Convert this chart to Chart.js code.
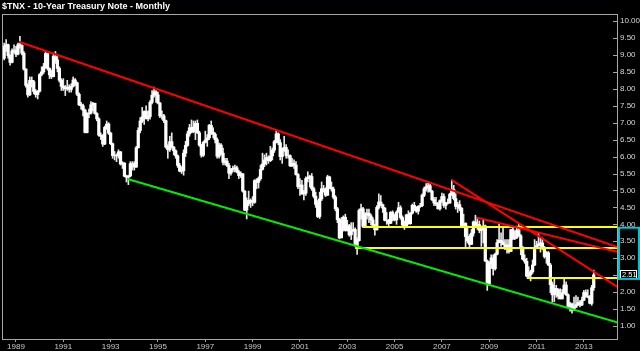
<!DOCTYPE html>
<html>
<head>
<meta charset="utf-8">
<script src="https://cdn.jsdelivr.net/npm/chart.js@4.4.0/dist/chart.umd.min.js"></script>
<style>
  html, body { margin: 0; padding: 0; background: #000; }
  #wrap { width: 640px; height: 351px; }
</style>
</head>
<body>
<div id="wrap"><canvas id="tnx"></canvas></div>
<script>
// Monthly candles, Jul 1988 .. Jun 2013. x = months since Jan 1989
var firstMonth = -6;

var opens = [
  8.90, 9.26, 9.30, 8.98, 8.78, 9.12,                                   // 1988 Jul-Dec
  9.14, 9.02, 9.30, 9.28, 9.05, 8.58, 8.10, 7.82, 8.25, 8.21, 7.92, 7.83, // 1989
  7.93, 8.42, 8.50, 8.65, 9.04, 8.60, 8.41, 8.36, 8.96, 8.85, 8.60, 8.25, // 1990
  8.07, 8.02, 8.00, 8.05, 7.98, 8.07, 8.26, 8.18, 7.84, 7.53, 7.50, 7.37, // 1991
  6.71, 7.27, 7.28, 7.53, 7.57, 7.27, 7.11, 6.63, 6.60, 6.37, 6.86, 6.96, // 1992
  6.69, 6.38, 6.03, 6.04, 6.02, 6.14, 5.78, 5.81, 5.42, 5.39, 5.43, 5.79, // 1993
  5.79, 5.69, 6.26, 6.77, 7.05, 7.17, 7.33, 7.12, 7.18, 7.60, 7.81, 7.91, // 1994
  7.82, 7.58, 7.20, 7.20, 7.06, 6.28, 6.20, 6.44, 6.28, 6.17, 6.02, 5.74, // 1995
  5.57, 5.58, 6.10, 6.33, 6.67, 6.85, 6.73, 6.87, 6.98, 6.70, 6.34, 6.04, // 1996
  6.42, 6.49, 6.55, 6.92, 6.72, 6.66, 6.50, 6.01, 6.34, 6.10, 5.83, 5.87, // 1997
  5.74, 5.51, 5.62, 5.65, 5.67, 5.55, 5.44, 5.49, 4.98, 4.42, 4.61, 4.71, // 1998
  4.65, 4.65, 5.29, 5.24, 5.35, 5.62, 5.78, 5.90, 5.97, 5.88, 6.02, 6.19, // 1999
  6.44, 6.67, 6.41, 6.00, 6.21, 6.27, 6.03, 6.03, 5.73, 5.80, 5.75, 5.47, // 2000
  5.11, 5.16, 4.90, 4.92, 5.35, 5.38, 5.41, 5.05, 4.83, 4.59, 4.23, 4.75, // 2001
  5.05, 5.04, 4.86, 5.40, 5.09, 5.04, 4.80, 4.46, 4.14, 3.60, 3.89, 4.21, // 2002
  3.82, 3.96, 3.69, 3.80, 3.85, 3.37, 3.52, 4.41, 4.46, 3.94, 4.29, 4.33, // 2003
  4.25, 4.13, 3.97, 3.84, 4.50, 4.66, 4.58, 4.48, 4.12, 4.12, 4.03, 4.35, // 2004
  4.22, 4.13, 4.36, 4.49, 4.20, 3.98, 3.94, 4.28, 4.02, 4.33, 4.56, 4.49, // 2005
  4.39, 4.53, 4.55, 4.86, 5.05, 5.11, 5.14, 4.98, 4.73, 4.63, 4.60, 4.46, // 2006
  4.70, 4.82, 4.56, 4.64, 4.63, 4.89, 5.03, 4.76, 4.53, 4.58, 4.47, 3.94, // 2007
  4.03, 3.64, 3.51, 3.41, 3.74, 4.07, 3.97, 3.99, 3.82, 3.85, 3.95, 2.92, // 2008
  2.24, 2.84, 3.01, 2.69, 3.12, 3.46, 3.53, 3.48, 3.40, 3.31, 3.39, 3.20, // 2009
  3.84, 3.59, 3.61, 3.83, 3.66, 3.29, 2.97, 2.91, 2.47, 2.51, 2.60, 2.80, // 2010
  3.29, 3.37, 3.42, 3.45, 3.29, 3.05, 3.16, 2.80, 2.22, 1.92, 2.11, 2.07, // 2011
  1.88, 1.80, 1.98, 2.21, 1.92, 1.58, 1.65, 1.47, 1.55, 1.63, 1.69, 1.62, // 2012
  1.76, 1.99, 1.88, 1.85, 1.67, 2.13                                      // 2013 Jan-Jun
];
var highs = [
  9.35, 9.45, 9.32, 9.00, 9.18, 9.30,
  9.25, 9.35, 9.55, 9.30, 9.10, 8.60, 8.15, 8.35, 8.35, 8.25, 7.98, 7.95,
  8.45, 8.65, 8.75, 9.10, 9.05, 8.62, 8.55, 9.05, 9.10, 8.95, 8.65, 8.30,
  8.30, 8.10, 8.25, 8.12, 8.15, 8.35, 8.30, 8.20, 7.88, 7.60, 7.55, 7.40,
  7.30, 7.40, 7.62, 7.60, 7.58, 7.30, 7.15, 6.70, 6.65, 6.90, 7.05, 7.00,
  6.72, 6.40, 6.15, 6.08, 6.20, 6.15, 5.85, 5.82, 5.45, 5.45, 5.85, 5.85,
  5.85, 6.30, 6.85, 7.15, 7.45, 7.35, 7.50, 7.35, 7.65, 7.95, 8.05, 7.95,
  7.90, 7.60, 7.35, 7.25, 7.08, 6.35, 6.60, 6.70, 6.30, 6.20, 6.05, 5.80,
  5.70, 6.20, 6.45, 6.75, 6.95, 7.08, 7.05, 7.05, 7.08, 6.75, 6.36, 6.45,
  6.75, 6.65, 6.95, 7.05, 6.85, 6.70, 6.55, 6.40, 6.38, 6.25, 5.95, 5.95,
  5.80, 5.65, 5.72, 5.75, 5.72, 5.60, 5.55, 5.50, 5.00, 4.78, 4.98, 4.75,
  4.82, 5.32, 5.35, 5.40, 5.75, 6.10, 6.05, 6.10, 6.02, 6.30, 6.25, 6.48,
  6.79, 6.70, 6.50, 6.25, 6.60, 6.35, 6.20, 6.05, 5.95, 5.90, 5.85, 5.50,
  5.35, 5.30, 5.00, 5.40, 5.55, 5.45, 5.50, 5.10, 4.95, 4.70, 4.95, 5.25,
  5.15, 5.08, 5.45, 5.42, 5.25, 5.10, 4.85, 4.50, 4.18, 4.20, 4.25, 4.30,
  4.12, 4.00, 4.05, 4.05, 3.90, 3.60, 4.45, 4.60, 4.50, 4.35, 4.45, 4.45,
  4.30, 4.20, 4.00, 4.55, 4.90, 4.85, 4.60, 4.50, 4.35, 4.15, 4.38, 4.40,
  4.30, 4.40, 4.65, 4.55, 4.25, 4.10, 4.30, 4.40, 4.35, 4.60, 4.65, 4.52,
  4.55, 4.62, 4.90, 5.10, 5.20, 5.25, 5.20, 5.00, 4.80, 4.80, 4.65, 4.72,
  4.92, 4.90, 4.65, 4.75, 4.92, 5.31, 5.15, 4.90, 4.65, 4.70, 4.50, 4.30,
  4.05, 3.95, 3.70, 3.85, 4.10, 4.27, 4.20, 4.10, 3.95, 4.15, 3.98, 2.95,
  2.90, 3.10, 3.10, 3.15, 3.55, 4.00, 3.75, 3.90, 3.55, 3.55, 3.55, 3.85,
  3.95, 3.80, 3.95, 4.00, 3.70, 3.35, 3.10, 3.00, 2.75, 2.65, 2.95, 3.55,
  3.50, 3.75, 3.60, 3.60, 3.35, 3.20, 3.20, 2.85, 2.30, 2.40, 2.20, 2.10,
  2.10, 2.08, 2.40, 2.30, 1.95, 1.70, 1.68, 1.85, 1.90, 1.85, 1.75, 1.85,
  2.05, 2.07, 2.07, 1.90, 2.20, 2.65
];
var lows = [
  8.85, 9.10, 8.90, 8.70, 8.76, 9.05,
  8.95, 9.00, 9.20, 9.00, 8.55, 8.05, 7.75, 7.80, 8.05, 7.85, 7.75, 7.70,
  7.90, 8.38, 8.45, 8.60, 8.55, 8.30, 8.30, 8.35, 8.75, 8.50, 8.20, 7.95,
  7.95, 7.80, 7.95, 7.90, 7.90, 8.05, 8.10, 7.80, 7.50, 7.40, 7.20, 6.70,
  6.70, 7.15, 7.25, 7.35, 7.25, 7.05, 6.60, 6.50, 6.30, 6.35, 6.80, 6.65,
  6.35, 5.95, 5.90, 5.85, 5.95, 5.75, 5.65, 5.40, 5.25, 5.17, 5.40, 5.60,
  5.60, 5.68, 6.25, 6.70, 7.00, 6.95, 7.10, 7.05, 7.10, 7.55, 7.75, 7.60,
  7.55, 7.15, 7.10, 7.00, 6.25, 5.95, 6.15, 6.25, 6.05, 5.95, 5.68, 5.55,
  5.50, 5.45, 6.00, 6.30, 6.60, 6.70, 6.70, 6.50, 6.68, 6.30, 5.98, 6.00,
  6.40, 6.30, 6.50, 6.65, 6.55, 6.40, 5.95, 5.95, 6.05, 5.75, 5.75, 5.70,
  5.35, 5.45, 5.55, 5.55, 5.52, 5.35, 5.38, 4.95, 4.40, 4.16, 4.55, 4.50,
  4.55, 4.62, 5.05, 5.07, 5.30, 5.60, 5.70, 5.75, 5.80, 5.85, 5.90, 6.12,
  6.40, 6.35, 5.90, 5.80, 6.15, 5.95, 5.95, 5.70, 5.70, 5.65, 5.45, 5.05,
  4.85, 4.88, 4.72, 4.85, 5.25, 5.10, 5.00, 4.78, 4.50, 4.20, 4.17, 4.70,
  4.95, 4.82, 4.85, 5.05, 4.98, 4.75, 4.40, 4.05, 3.57, 3.60, 3.80, 3.80,
  3.80, 3.65, 3.55, 3.80, 3.35, 3.11, 3.50, 4.15, 3.90, 3.92, 4.15, 4.05,
  3.98, 3.95, 3.68, 3.83, 4.45, 4.55, 4.35, 4.10, 4.00, 3.95, 4.02, 4.10,
  4.10, 4.00, 4.35, 4.15, 3.95, 3.85, 3.93, 4.00, 4.00, 4.30, 4.40, 4.35,
  4.30, 4.50, 4.52, 4.82, 4.98, 4.95, 4.95, 4.70, 4.55, 4.55, 4.45, 4.42,
  4.65, 4.50, 4.45, 4.60, 4.62, 4.85, 4.72, 4.45, 4.35, 4.40, 3.90, 3.90,
  3.30, 3.45, 3.30, 3.40, 3.65, 3.90, 3.85, 3.75, 3.35, 3.45, 2.90, 2.05,
  2.20, 2.70, 2.50, 2.65, 3.10, 3.45, 3.35, 3.40, 3.25, 3.15, 3.15, 3.20,
  3.55, 3.55, 3.58, 3.65, 3.10, 2.95, 2.85, 2.45, 2.45, 2.33, 2.55, 2.78,
  3.28, 3.35, 3.18, 3.25, 3.00, 2.85, 2.78, 1.98, 1.70, 1.72, 1.85, 1.80,
  1.80, 1.80, 1.95, 1.90, 1.55, 1.44, 1.38, 1.46, 1.55, 1.60, 1.56, 1.60,
  1.75, 1.85, 1.83, 1.65, 1.61, 2.05
];
var closes = [
  9.26, 9.30, 8.98, 8.78, 9.12, 9.14,
  9.02, 9.30, 9.28, 9.05, 8.58, 8.10, 7.82, 8.25, 8.21, 7.92, 7.83, 7.93,
  8.42, 8.50, 8.65, 9.04, 8.60, 8.41, 8.36, 8.96, 8.85, 8.60, 8.25, 8.07,
  8.02, 8.00, 8.05, 7.98, 8.07, 8.26, 8.18, 7.84, 7.53, 7.50, 7.37, 6.71,
  7.27, 7.28, 7.53, 7.57, 7.27, 7.11, 6.63, 6.60, 6.37, 6.86, 6.96, 6.69,
  6.38, 6.03, 6.04, 6.02, 6.14, 5.78, 5.81, 5.42, 5.39, 5.43, 5.79, 5.79,
  5.69, 6.26, 6.77, 7.05, 7.17, 7.33, 7.12, 7.18, 7.60, 7.81, 7.91, 7.82,
  7.58, 7.20, 7.20, 7.06, 6.28, 6.20, 6.44, 6.28, 6.17, 6.02, 5.74, 5.57,
  5.58, 6.10, 6.33, 6.67, 6.85, 6.73, 6.87, 6.98, 6.70, 6.34, 6.04, 6.42,
  6.49, 6.55, 6.92, 6.72, 6.66, 6.50, 6.01, 6.34, 6.10, 5.83, 5.87, 5.74,
  5.51, 5.62, 5.65, 5.67, 5.55, 5.44, 5.49, 4.98, 4.42, 4.61, 4.71, 4.65,
  4.65, 5.29, 5.24, 5.35, 5.62, 5.78, 5.90, 5.97, 5.88, 6.02, 6.19, 6.44,
  6.67, 6.41, 6.00, 6.21, 6.27, 6.03, 6.03, 5.73, 5.80, 5.75, 5.47, 5.11,
  5.16, 4.90, 4.92, 5.35, 5.38, 5.41, 5.05, 4.83, 4.59, 4.23, 4.75, 5.05,
  5.04, 4.86, 5.40, 5.09, 5.04, 4.80, 4.46, 4.14, 3.60, 3.89, 4.21, 3.82,
  3.96, 3.69, 3.80, 3.85, 3.37, 3.52, 4.41, 4.46, 3.94, 4.29, 4.33, 4.25,
  4.13, 3.97, 3.84, 4.50, 4.66, 4.58, 4.48, 4.12, 4.12, 4.03, 4.35, 4.22,
  4.13, 4.36, 4.49, 4.20, 3.98, 3.94, 4.28, 4.02, 4.33, 4.56, 4.49, 4.39,
  4.53, 4.55, 4.86, 5.05, 5.11, 5.14, 4.98, 4.73, 4.63, 4.60, 4.46, 4.70,
  4.82, 4.56, 4.64, 4.63, 4.89, 5.03, 4.76, 4.53, 4.58, 4.47, 3.94, 4.03,
  3.64, 3.51, 3.41, 3.74, 4.07, 3.97, 3.99, 3.82, 3.85, 3.95, 2.92, 2.24,
  2.84, 3.01, 2.69, 3.12, 3.46, 3.53, 3.48, 3.40, 3.31, 3.39, 3.20, 3.84,
  3.59, 3.61, 3.83, 3.66, 3.29, 2.97, 2.91, 2.47, 2.51, 2.60, 2.80, 3.29,
  3.37, 3.42, 3.45, 3.29, 3.05, 3.16, 2.80, 2.22, 1.92, 2.11, 2.07, 1.88,
  1.80, 1.98, 2.21, 1.92, 1.58, 1.65, 1.47, 1.55, 1.63, 1.69, 1.62, 1.76,
  1.99, 1.88, 1.85, 1.67, 2.13, 2.51
];

// axis labels
var yearLabels = ['1989', '1991', '1993', '1995', '1997', '1999', '2001',
                  '2003', '2005', '2007', '2009', '2011', '2013'];
var yTicks = [1.00, 1.50, 2.00, 2.50, 3.00, 3.50, 4.00, 4.50, 5.00,
              5.50, 6.00, 6.50, 7.00, 7.50, 8.00, 8.50, 9.00, 9.50, 10.00];

// drawn trend lines, [x1, y1, x2, y2] in (month, yield)
var xMin = -7.1, xMax = 304.8;
var yMin = 0.587, yMax = 10.207;
var redLines = [
  [1.5, 9.39, xMax, 3.34],
  [220.9, 5.31, xMax, 2.16],
  [233.6, 4.20, xMax, 3.19]
];
var greenLines = [
  [56.6, 5.34, xMax, 1.11]
];
var yellowLines = [
  [176.0, 3.92, xMax, 3.92],
  [171.9, 3.30, xMax, 3.30],
  [259.0, 2.42, xMax, 2.42]
];
var boxRange = [2.39, 3.90];
var titleText = '$TNX - 10-Year Treasury Note - Monthly';

function lineSets(list, color) {
    return list.map(function (l) {
        return {
            type: 'line',
            data: [{x: l[0], y: l[1]}, {x: l[2], y: l[3]}],
            borderColor: color,
            borderWidth: 2,
            pointRadius: 0,
            order: 0
        };
    });
}

var wicks = [], bodies = [];
closes.forEach(function (c, i) {
    var m = firstMonth + i;
    wicks.push({x: m, y: [lows[i], highs[i]]});
    bodies.push({x: m, y: [opens[i], c]});
});

// Draw frame, inner y ticks, title, highlight box and last value tag
var overlay = {
    id: 'overlay',
    afterDraw: function (chart) {
        var ctx = chart.ctx, a = chart.chartArea, y = chart.scales.y;
        ctx.save();
        ctx.strokeStyle = '#a8a8a0';
        ctx.lineWidth = 1;
        ctx.strokeRect(a.left + 0.5, a.top + 0.5, a.right - a.left, a.bottom - a.top - 1);
        yTicks.forEach(function (v) {
            var py = Math.round(y.getPixelForValue(v)) + 0.5;
            ctx.beginPath();
            ctx.moveTo(a.right - 4, py);
            ctx.lineTo(a.right, py);
            ctx.stroke();
        });

        ctx.fillStyle = '#ffffff';
        ctx.font = 'bold 9px "Liberation Sans", Arial, sans-serif';
        ctx.textBaseline = 'alphabetic';
        ctx.fillText(titleText, 2, 8.5, 176);

        // last close tag
        var last = closes[closes.length - 1];
        var ly = Math.round(y.getPixelForValue(last));
        ctx.fillStyle = '#000000';
        ctx.fillRect(620, ly - 5, 17, 9);
        ctx.strokeStyle = '#ffffff';
        ctx.strokeRect(620.5, ly - 4.5, 16, 8);
        ctx.fillStyle = '#ffffff';
        ctx.font = '7.5px "Liberation Sans", Arial, sans-serif';
        ctx.textBaseline = 'middle';
        ctx.fillText(last.toFixed(2), 622, ly);

        var top = y.getPixelForValue(boxRange[1]), bot = y.getPixelForValue(boxRange[0]);
        ctx.strokeStyle = '#00c4d4';
        ctx.lineWidth = 2;
        ctx.strokeRect(a.right + 2, top, chart.width - a.right - 3, bot - top);
        ctx.restore();
    }
};

var tickFont = {family: '"Liberation Sans", Arial, sans-serif', size: 8};

new Chart(document.getElementById('tnx'), {
    type: 'bar',
    data: {
        datasets: [
            {data: wicks, backgroundColor: '#e8e8e8', barThickness: 1, grouped: false, order: 2},
            {data: bodies, backgroundColor: '#ffffff', barThickness: 2.6, grouped: false, order: 1}
        ].concat(lineSets(redLines, '#ff0000'),
                 lineSets(greenLines, '#00ee00'),
                 lineSets(yellowLines, '#ffff00'))
    },
    options: {
        responsive: true,
        maintainAspectRatio: false,
        devicePixelRatio: 1,
        animation: false,
        layout: {padding: {top: 14, left: 2, right: 0, bottom: 0}},
        plugins: {legend: {display: false}, tooltip: {enabled: false}, title: {display: false}},
        scales: {
            x: {
                type: 'linear', min: xMin, max: xMax, offset: false,
                grid: {drawOnChartArea: false, offset: false, tickLength: 2, color: '#a0a0a0'},
                border: {display: false},
                ticks: {
                    color: '#c8c8c8', font: tickFont, padding: 0, maxRotation: 0, autoSkip: false,
                    callback: function (v) { return yearLabels[v / 24]; }
                },
                afterBuildTicks: function (s) {
                    s.ticks = yearLabels.map(function (l, i) { return {value: i * 24}; });
                },
                afterFit: function (s) { s.height = 11; }
            },
            y: {
                type: 'linear', position: 'right', min: yMin, max: yMax, beginAtZero: false,
                grid: {drawOnChartArea: false, drawTicks: false},
                border: {display: false},
                ticks: {
                    color: '#d8d8d8', font: tickFont, padding: 3,
                    callback: function (v) { return v.toFixed(2); }
                },
                afterBuildTicks: function (s) {
                    s.ticks = yTicks.map(function (v) { return {value: v}; });
                },
                afterFit: function (s) { s.width = 23; }
            }
        }
    },
    plugins: [overlay]
});
</script>
</body>
</html>
